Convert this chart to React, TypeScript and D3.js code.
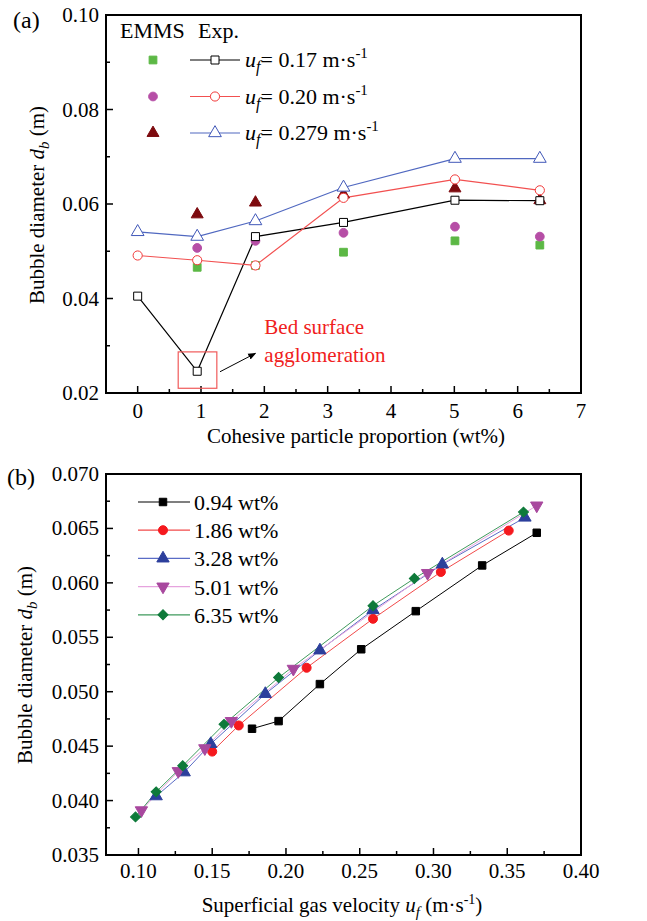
import React from 'react';
import * as d3 from 'd3';

// panel (a): bubble diameter vs cohesive particle proportion
const wtA = [0, 0.94, 1.86, 3.25, 5.01, 6.35];
const exp017 = [0.0405, 0.0246, 0.0531, 0.0561, 0.0608, 0.0607];
const exp020 = [0.0491, 0.0481, 0.0470, 0.0613, 0.0652, 0.0629];
const exp0279 = [0.0541, 0.0531, 0.0564, 0.0635, 0.0696, 0.0696];
const wtEmms = [0.94, 1.86, 3.25, 5.01, 6.35];
const emms017 = [0.0466, 0.0470, 0.0498, 0.0522, 0.0513];
const emms020 = [0.0507, 0.0522, 0.0539, 0.0552, 0.0531];
const emms0279 = [0.0578, 0.0603, 0.0620, 0.0633, 0.0608];
const velLabels = ['0.17', '0.20', '0.279'];

// panel (b): bubble diameter vs superficial gas velocity
const ufB094 = [0.177, 0.195, 0.223, 0.251, 0.288, 0.333, 0.370];
const dbB094 = [0.0466, 0.0473, 0.0507, 0.0539, 0.0574, 0.0616, 0.0646];
const ufB186 = [0.150, 0.168, 0.214, 0.259, 0.305, 0.351];
const dbB186 = [0.0445, 0.0469, 0.0522, 0.0567, 0.0610, 0.0648];
const ufB328 = [0.112, 0.131, 0.149, 0.186, 0.223, 0.259, 0.306, 0.362];
const dbB328 = [0.0404, 0.0426, 0.0452, 0.0498, 0.0538, 0.0575, 0.0617, 0.0660];
const ufB501 = [0.102, 0.127, 0.145, 0.163, 0.205, 0.296, 0.370];
const dbB501 = [0.0391, 0.0427, 0.0448, 0.0473, 0.0521, 0.0609, 0.0671];
const ufB635 = [0.098, 0.112, 0.130, 0.158, 0.195, 0.259, 0.287, 0.361];
const dbB635 = [0.0385, 0.0408, 0.0432, 0.0470, 0.0513, 0.0579, 0.0604, 0.0665];
const wtLabels = ['0.94 wt%', '1.86 wt%', '3.28 wt%', '5.01 wt%', '6.35 wt%'];

const FONT = "'Liberation Serif', 'Times New Roman', serif";

type Shape = 'square' | 'circle' | 'up' | 'down' | 'diamond';

function markerPath(shape: Shape, size: number) {
  if (shape === 'circle') return d3.symbol(d3.symbolCircle, size)()!;
  if (shape === 'square' || shape === 'diamond') return d3.symbol(d3.symbolSquare, size)()!;
  return d3.symbol(d3.symbolTriangle, size)()!;
}

function Marker({ x, y, shape, size, fill, stroke }: any) {
  let rot = 0;
  if (shape === 'down') rot = 180;
  if (shape === 'diamond') rot = 45;
  return (
    <path
      d={markerPath(shape, size)}
      transform={`translate(${x},${y}) rotate(${rot})`}
      fill={fill}
      stroke={stroke}
      strokeWidth={1}
    />
  );
}

function Frame({ x, y, w, h }: any) {
  return <rect x={x} y={y} width={w} height={h} fill="none" stroke="#000" strokeWidth={2} />;
}

export default function App() {
  // ---- panel (a) scales
  const xa = d3.scaleLinear().domain([-0.5, 7]).range([106, 581]);
  const ya = d3.scaleLinear().domain([0.02, 0.10]).range([393, 15]);
  // ---- panel (b) scales
  const xb = d3.scaleLinear().domain([0.078, 0.40]).range([106, 581]);
  const yb = d3.scaleLinear().domain([0.035, 0.070]).range([855, 474]);

  const lineA = (xs: number[], ys: number[]) =>
    d3.line<number>().x((d, i) => xa(xs[i])).y((d) => ya(d))(ys)!;
  const lineB = (xs: number[], ys: number[]) =>
    d3.line<number>().x((d, i) => xb(xs[i])).y((d) => yb(d))(ys)!;

  const expSeries = [
    { ys: exp017, color: '#000000', line: '#000000', shape: 'square' as Shape, size: 64 },
    { ys: exp020, color: '#f23a3a', line: '#f25050', shape: 'circle' as Shape, size: 66 },
    { ys: exp0279, color: '#4158b8', line: '#5068c0', shape: 'up' as Shape, size: 70 },
  ];
  const emmsSeries = [
    { ys: emms017, color: '#5cb845', shape: 'square' as Shape, size: 60 },
    { ys: emms020, color: '#b64ea6', shape: 'circle' as Shape, size: 60 },
    { ys: emms0279, color: '#7d0a0e', shape: 'up' as Shape, size: 62 },
  ];

  const bSeries = [
    { xs: ufB094, ys: dbB094, color: '#000000', line: '#000000', shape: 'square' as Shape, size: 56 },
    { xs: ufB186, ys: dbB186, color: '#f5191e', line: '#f24a4a', shape: 'circle' as Shape, size: 64 },
    { xs: ufB328, ys: dbB328, color: '#2c3f9c', line: '#5a6cc6', shape: 'up' as Shape, size: 66 },
    { xs: ufB501, ys: dbB501, color: '#a8489e', line: '#e6a3de', shape: 'down' as Shape, size: 66 },
    { xs: ufB635, ys: dbB635, color: '#0e7a3a', line: '#3f9a5c', shape: 'diamond' as Shape, size: 50 },
  ];

  const tickFs = 21;

  // ticks for panel (a)
  const xaMajor = d3.range(0, 8, 1);
  const xaMinor = d3.range(-0.5, 7.01, 0.5).filter((v) => Math.abs(v - Math.round(v)) > 0.01);
  const yaMajor = [0.02, 0.04, 0.06, 0.08, 0.10];
  const yaMinor = [0.03, 0.05, 0.07, 0.09];

  // ticks for panel (b)
  const xbMajor = [0.10, 0.15, 0.20, 0.25, 0.30, 0.35, 0.40];
  const xbMinor = [0.125, 0.175, 0.225, 0.275, 0.325, 0.375];
  const ybMajor = [0.035, 0.040, 0.045, 0.050, 0.055, 0.060, 0.065, 0.070];
  const ybMinor = [0.0375, 0.0425, 0.0475, 0.0525, 0.0575, 0.0625, 0.0675];

  const yTitle = (cx: number, cy: number) => (
    <text
      transform={`translate(${cx},${cy}) rotate(-90)`}
      textAnchor="middle"
      fontSize={21}
      fontFamily={FONT}
    >
      Bubble diameter{' '}
      <tspan fontStyle="italic">d</tspan>
      <tspan fontStyle="italic" fontSize={15} dy={5}>b</tspan>
      <tspan dy={-5}> (m)</tspan>
    </text>
  );

  return (
    <svg
      width={647}
      height={921}
      style={{ position: 'absolute', left: 0, top: 0, background: '#fff' }}
      fontFamily={FONT}
    >
      <rect width={647} height={921} fill="#fff" />

      {/* ================= panel (a) ================= */}
      <text x={13} y={28} fontSize={24}>(a)</text>

      {xaMajor.map((v) => (
        <g key={'xa' + v}>
          <line x1={xa(v)} x2={xa(v)} y1={393} y2={386} stroke="#000" strokeWidth={1.5} />
          <text x={xa(v)} y={418} textAnchor="middle" fontSize={tickFs}>{v}</text>
        </g>
      ))}
      {xaMinor.map((v) => (
        <line key={'xam' + v} x1={xa(v)} x2={xa(v)} y1={393} y2={389} stroke="#000" strokeWidth={1.5} />
      ))}
      {yaMajor.map((v) => (
        <g key={'ya' + v}>
          <line x1={106} x2={113} y1={ya(v)} y2={ya(v)} stroke="#000" strokeWidth={1.5} />
          <text x={99} y={ya(v) + 7} textAnchor="end" fontSize={tickFs}>{v.toFixed(2)}</text>
        </g>
      ))}
      {yaMinor.map((v) => (
        <line key={'yam' + v} x1={106} x2={110} y1={ya(v)} y2={ya(v)} stroke="#000" strokeWidth={1.5} />
      ))}

      {/* experimental lines */}
      {expSeries.map((s, k) => (
        <path key={'el' + k} d={lineA(wtA, s.ys)} fill="none" stroke={s.line} strokeWidth={1.2} />
      ))}
      {/* EMMS markers */}
      {emmsSeries.map((s, k) =>
        s.ys.map((v, i) => (
          <Marker key={'em' + k + '-' + i} x={xa(wtEmms[i])} y={ya(v)} shape={s.shape} size={s.size} fill={s.color} stroke={s.color} />
        ))
      )}
      {/* experimental markers */}
      {expSeries.map((s, k) =>
        s.ys.map((v, i) => (
          <Marker key={'ex' + k + '-' + i} x={xa(wtA[i])} y={ya(v)} shape={s.shape} size={s.size} fill="#fff" stroke={s.color} />
        ))
      )}

      {/* annotation */}
      <rect
        x={xa(0.64)}
        y={ya(0.0287)}
        width={xa(1.25) - xa(0.64)}
        height={ya(0.0210) - ya(0.0287)}
        fill="none"
        stroke="#f05a5a"
        strokeWidth={1.2}
      />
      <defs>
        <marker id="arr" viewBox="0 0 10 10" refX={9} refY={5} markerWidth={8} markerHeight={8} orient="auto">
          <path d="M0,1 L10,5 L0,9 Z" fill="#000" />
        </marker>
      </defs>
      <line
        x1={xa(1.3)}
        y1={ya(0.0245)}
        x2={xa(1.86)}
        y2={ya(0.0284)}
        stroke="#000"
        strokeWidth={1}
        markerEnd="url(#arr)"
      />
      <text x={xa(2.0)} y={ya(0.0325)} fontSize={21} fill="#f02020">Bed surface</text>
      <text x={xa(2.0)} y={ya(0.0265)} fontSize={21} fill="#f02020">agglomeration</text>

      {/* legend (a) */}
      <text x={120} y={38} fontSize={22}>EMMS</text>
      <text x={198} y={38} fontSize={22}>Exp.</text>
      {velLabels.map((lab, k) => {
        const cy = 60 + k * 36.5;
        const e = emmsSeries[k];
        const s = expSeries[k];
        return (
          <g key={'lga' + k}>
            <Marker x={153} y={cy} shape={e.shape} size={e.size} fill={e.color} stroke={e.color} />
            <line x1={190} x2={240} y1={cy} y2={cy} stroke={s.line} strokeWidth={1.2} />
            <Marker x={215} y={cy} shape={s.shape} size={s.size} fill="#fff" stroke={s.color} />
            <text x={245} y={cy + 7} fontSize={22}>
              <tspan fontStyle="italic">u</tspan>
              <tspan fontStyle="italic" fontSize={16} dy={5}>f</tspan>
              <tspan dy={-5}>= {lab} m·s</tspan>
              <tspan fontSize={15} dy={-9}>-1</tspan>
            </text>
          </g>
        );
      })}

      <Frame x={106} y={15} w={475} h={378} />
      {yTitle(44, 205)}
      <text x={356} y={443} textAnchor="middle" fontSize={21}>Cohesive particle proportion (wt%)</text>

      {/* ================= panel (b) ================= */}
      <text x={7} y={485} fontSize={24}>(b)</text>

      {xbMajor.map((v) => (
        <g key={'xb' + v}>
          <line x1={xb(v)} x2={xb(v)} y1={855} y2={848} stroke="#000" strokeWidth={1.5} />
          <text x={xb(v)} y={878} textAnchor="middle" fontSize={tickFs}>{v.toFixed(2)}</text>
        </g>
      ))}
      {xbMinor.map((v) => (
        <line key={'xbm' + v} x1={xb(v)} x2={xb(v)} y1={855} y2={851} stroke="#000" strokeWidth={1.5} />
      ))}
      {ybMajor.map((v) => (
        <g key={'yb' + v}>
          <line x1={106} x2={113} y1={yb(v)} y2={yb(v)} stroke="#000" strokeWidth={1.5} />
          <text x={99} y={yb(v) + 7} textAnchor="end" fontSize={tickFs}>{v.toFixed(3)}</text>
        </g>
      ))}
      {ybMinor.map((v) => (
        <line key={'ybm' + v} x1={106} x2={110} y1={yb(v)} y2={yb(v)} stroke="#000" strokeWidth={1.5} />
      ))}

      {bSeries.map((s, k) => (
        <path key={'bl' + k} d={lineB(s.xs, s.ys)} fill="none" stroke={s.line} strokeWidth={1} />
      ))}
      {bSeries.map((s, k) =>
        s.ys.map((v, i) => (
          <Marker key={'bm' + k + '-' + i} x={xb(s.xs[i])} y={yb(v)} shape={s.shape} size={s.size} fill={s.color} stroke={s.color} />
        ))
      )}

      {/* legend (b) */}
      {wtLabels.map((lab, k) => {
        const cy = 502 + k * 28.2;
        const s = bSeries[k];
        return (
          <g key={'lgb' + k}>
            <line x1={138} x2={190} y1={cy} y2={cy} stroke={s.line} strokeWidth={1.2} />
            <Marker x={163} y={cy} shape={s.shape} size={s.size} fill={s.color} stroke={s.color} />
            <text x={194} y={cy + 8} fontSize={22}>{lab}</text>
          </g>
        );
      })}

      <Frame x={106} y={474} w={475} h={381} />
      {yTitle(32, 665)}
      <text x={342} y={912} textAnchor="middle" fontSize={21}>
        Superficial gas velocity{' '}
        <tspan fontStyle="italic">u</tspan>
        <tspan fontStyle="italic" fontSize={15} dy={5}>f</tspan>
        <tspan dy={-5}> (m·s</tspan>
        <tspan fontSize={14} dy={-8}>-1</tspan>
        <tspan dy={8}>)</tspan>
      </text>
    </svg>
  );
}
